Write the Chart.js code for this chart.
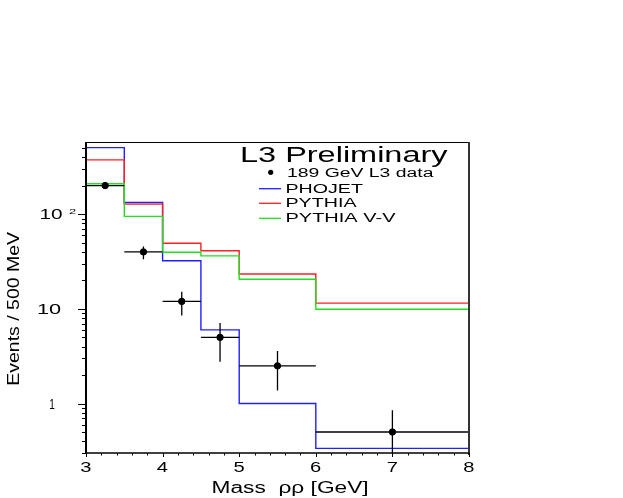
<!DOCTYPE html>
<html>
<head>
<meta charset="utf-8">
<script src="https://cdn.jsdelivr.net/npm/chart.js@4/dist/chart.umd.min.js"></script>
<style>
  html, body { margin: 0; padding: 0; background: #ffffff; }
  canvas { display: block; }
</style>
</head>
<body>
<canvas id="c" width="623" height="498"></canvas>
<script>
// ---- data ----
const binEdges   = [3, 3.5, 4, 4.5, 5, 6, 8];
const phojet     = [506, 133, 32.3, 6.0, 1.0, 0.336];
const pythia     = [375, 128, 49.4, 41.2, 23.4, 11.5];
const pythiaVV   = [210, 95, 39.7, 36.3, 20.6, 9.9];

const dataX      = [3.25, 3.75, 4.25, 4.75, 5.5, 7];
const dataY      = [201, 40, 12, 5.0, 2.5, 0.5];
const dataYHigh  = [215, 45.5, 15.2, 7.1, 3.59, 0.85];
const dataYLow   = [187, 33.4, 8.5, 2.77, 1.37, 0.2];
const dataXLow   = [3, 3.5, 4, 4.5, 5, 6];
const dataXHigh  = [3.5, 4, 4.5, 5, 6, 8];

const xTickLabels = ['3', '4', '5', '6', '7', '8'];
const yTickValues = [1, 10, 100];
const yTickLabels = ['1', '10', '10'];
const yTickSup    = ['', '', '2'];

const seriesNames = ['PHOJET', 'PYTHIA', 'PYTHIA V-V'];
const seriesColors = ['#2020ff', '#ff2020', '#20e020'];
const dataName = '189 GeV L3 data';
const plotTitle = 'L3 Preliminary';
const xTitle = 'Mass  \u03c1\u03c1 [GeV]';
const yTitle = 'Events / 500 MeV';

function stepData(vals) {
  const pts = vals.map((v, i) => ({ x: binEdges[i], y: v }));
  pts.push({ x: binEdges[binEdges.length - 1], y: vals[vals.length - 1] });
  return pts;
}

const FONT = '"Liberation Sans", Arial, sans-serif';

// draw text scaled so its ink has a given width
function stretchText(ctx, str, x, y, size, inkW, align, rotate) {
  ctx.save();
  ctx.font = size + 'px ' + FONT;
  ctx.textAlign = 'left';
  ctx.textBaseline = 'alphabetic';
  const m = ctx.measureText(str);
  const ink = m.actualBoundingBoxLeft + m.actualBoundingBoxRight;
  const sx = inkW / ink;
  ctx.translate(x, y);
  if (rotate) ctx.rotate(-Math.PI / 2);
  let off = 0;
  if (align === 'center') off = -inkW / 2;
  else if (align === 'right') off = -inkW;
  ctx.translate(off, 0);
  ctx.scale(sx, 1);
  ctx.fillStyle = '#000';
  ctx.fillText(str, m.actualBoundingBoxLeft, 0);
  ctx.restore();
}

const decorPlugin = {
  id: 'decor',
  afterDatasetsDraw(chart) {
    const ctx = chart.ctx;
    const xs = chart.scales.x, ys = chart.scales.y;
    const a = chart.chartArea;
    // error bars
    ctx.save();
    ctx.beginPath();
    ctx.rect(a.left, a.top, a.right - a.left, a.bottom - a.top);
    ctx.clip();
    ctx.strokeStyle = '#000';
    ctx.lineWidth = 1.3;
    for (let i = 0; i < dataX.length; i++) {
      const px = xs.getPixelForValue(dataX[i]);
      const py = ys.getPixelForValue(dataY[i]);
      ctx.beginPath();
      ctx.moveTo(xs.getPixelForValue(dataXLow[i]), py);
      ctx.lineTo(xs.getPixelForValue(dataXHigh[i]), py);
      ctx.moveTo(px, ys.getPixelForValue(dataYLow[i]));
      ctx.lineTo(px, ys.getPixelForValue(dataYHigh[i]));
      ctx.stroke();
    }
    ctx.restore();
  },
  afterDraw(chart) {
    const ctx = chart.ctx;
    const xs = chart.scales.x, ys = chart.scales.y;
    const a = chart.chartArea;
    ctx.save();
    // frame
    ctx.strokeStyle = '#000';
    ctx.lineWidth = 1;
    ctx.beginPath();
    ctx.moveTo(a.left, a.top + 0.5); ctx.lineTo(a.right, a.top + 0.5);
    ctx.stroke();
    ctx.strokeStyle = '#333';
    ctx.lineWidth = 2;
    ctx.beginPath();
    ctx.moveTo(a.right, a.top); ctx.lineTo(a.right, a.bottom + 2);
    ctx.stroke();
    ctx.strokeStyle = '#000';
    ctx.lineWidth = 2;
    ctx.beginPath();
    ctx.moveTo(a.left, a.top); ctx.lineTo(a.left, a.bottom + 1);
    ctx.stroke();
    ctx.lineWidth = 1.5;
    ctx.beginPath();
    ctx.moveTo(a.left, a.bottom); ctx.lineTo(a.right, a.bottom);
    ctx.stroke();
    // y ticks (log)
    ctx.lineWidth = 1;
    ctx.strokeStyle = '#000';
    ctx.beginPath();
    for (let d = -1; d <= 2; d++) {
      for (let k = 1; k <= 9; k++) {
        const v = k * Math.pow(10, d);
        if (v < ys.min || v > ys.max) continue;
        const py = Math.round(ys.getPixelForValue(v)) + 0.5;
        const len = (k === 1) ? 8 : 4;
        ctx.moveTo(a.left - len, py);
        ctx.lineTo(a.left, py);
      }
    }
    // x ticks
    for (let i = 0; i <= 25; i++) {
      const v = 3 + i * 0.2;
      const px = Math.round(xs.getPixelForValue(v)) + 0.5;
      const major = (i % 5 === 0);
      ctx.moveTo(px, a.bottom);
      ctx.lineTo(px, a.bottom + (major ? 4 : 2.5));
    }
    ctx.stroke();
    // x tick labels
    xTickLabels.forEach((t, i) => {
      const px = xs.getPixelForValue(3 + i);
      stretchText(ctx, t, px, 472, 14, 11.5, 'center');
    });
    // y tick labels
    yTickValues.forEach((v, i) => {
      const py = ys.getPixelForValue(v);
      const lab = yTickLabels[i];
      if (yTickSup[i]) {
        stretchText(ctx, lab, 41, py + 5, 14, 22, 'left');
        stretchText(ctx, yTickSup[i], 69, py - 0.5, 8, 8, 'left');
      } else if (lab.length === 1) {
        stretchText(ctx, lab, 52.5, py + 5, 14, 5, 'center');
      } else {
        stretchText(ctx, lab, 50, py + 5, 14, 23, 'center');
      }
    });
    // axis titles
    stretchText(ctx, xTitle, 213, 493, 16, 155, 'left');
    stretchText(ctx, yTitle, 19, 308, 16, 153, 'center', true);
    // legend
    stretchText(ctx, plotTitle, 241.5, 161.7, 22, 206, 'left');
    ctx.fillStyle = '#000';
    ctx.beginPath();
    ctx.arc(270.7, 172.3, 2.6, 0, Math.PI * 2);
    ctx.fill();
    stretchText(ctx, dataName, 287, 176.7, 12, 147, 'left');
    const lineYs = [188.7, 203.3, 218.3];
    const textYs = [192.7, 207.3, 222.3];
    const textWs = [76, 70, 109];
    seriesNames.forEach((n, i) => {
      ctx.strokeStyle = seriesColors[i];
      ctx.lineWidth = 1.3;
      ctx.beginPath();
      ctx.moveTo(259, lineYs[i]);
      ctx.lineTo(281, lineYs[i]);
      ctx.stroke();
      stretchText(ctx, n, 287, textYs[i], 13, textWs[i], 'left');
    });
    ctx.restore();
  }
};

const histo = (vals, i) => ({
  label: seriesNames[i],
  data: stepData(vals),
  borderColor: seriesColors[i],
  backgroundColor: seriesColors[i],
  borderWidth: 1.4,
  stepped: true,
  pointRadius: 0,
  fill: false,
  order: 2
});

new Chart(document.getElementById('c'), {
  type: 'line',
  data: {
    datasets: [
      histo(pythiaVV, 2),
      histo(pythia, 1),
      histo(phojet, 0),
      {
        type: 'scatter',
        label: dataName,
        data: dataX.map((x, i) => ({ x: x, y: dataY[i] })),
        pointRadius: 3.2,
        pointBackgroundColor: '#000',
        pointBorderColor: '#000',
        showLine: false,
        order: 1
      }
    ]
  },
  options: {
    responsive: false,
    animation: false,
    devicePixelRatio: 1,
    layout: { padding: { left: 86, right: 154, top: 142, bottom: 45 } },
    plugins: { legend: { display: false }, tooltip: { enabled: false }, title: { display: false } },
    scales: {
      x: {
        type: 'linear', min: 3, max: 8,
        ticks: { display: false }, grid: { display: false, drawTicks: false }, border: { display: false },
        afterFit: s => { s.height = 0; }
      },
      y: {
        type: 'logarithmic', min: 0.3, max: 580,
        ticks: { display: false }, grid: { display: false, drawTicks: false }, border: { display: false },
        afterFit: s => { s.width = 0; }
      }
    }
  },
  plugins: [decorPlugin]
});
</script>
</body>
</html>
